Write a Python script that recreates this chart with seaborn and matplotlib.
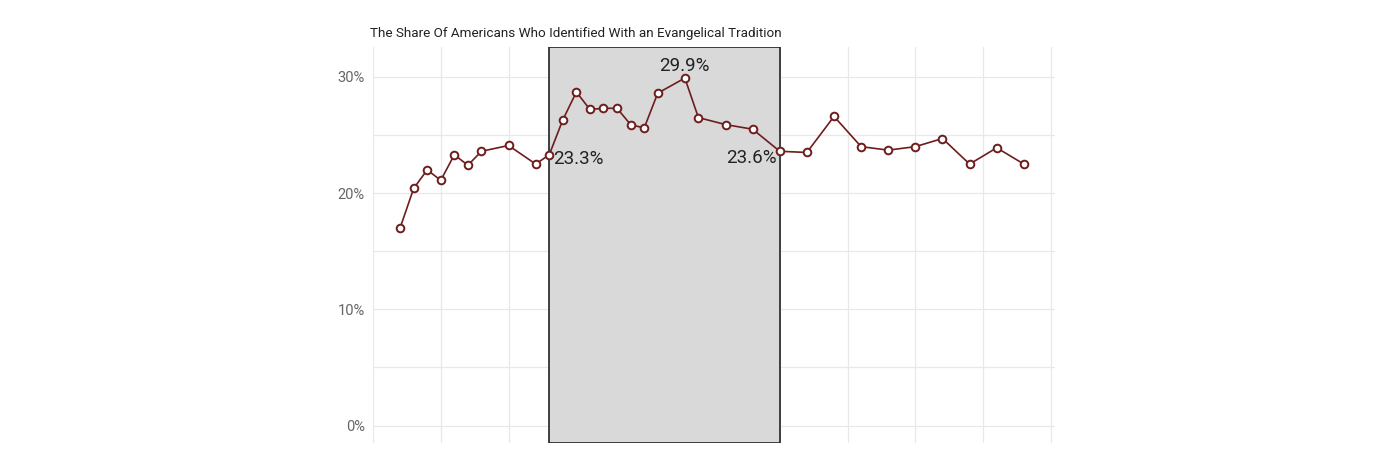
import matplotlib
matplotlib.use("Agg")
import matplotlib.pyplot as plt
import matplotlib.ticker as mticker
import seaborn as sns
import pandas as pd

# GSS survey years and share identifying with an evangelical tradition (%)
years = [1972, 1973, 1974, 1975, 1976, 1977, 1978, 1980, 1982, 1983, 1984,
         1985, 1986, 1987, 1988, 1989, 1990, 1991, 1993, 1994, 1996, 1998,
         2000, 2002, 2004, 2006, 2008, 2010, 2012, 2014, 2016, 2018]
share = [17.0, 20.4, 22.0, 21.1, 23.3, 22.4, 23.6, 24.1, 22.5, 23.3, 26.3,
         28.7, 27.2, 27.3, 27.3, 25.9, 25.6, 28.6, 29.9, 26.5, 25.9, 25.5,
         23.6, 23.5, 26.6, 24.0, 23.7, 24.0, 24.7, 22.5, 23.9, 22.5]

span_start, span_end = 1983, 2000
labels = {1983: "23.3%", 1993: "29.9%", 2000: "23.6%"}

df = pd.DataFrame({"year": years, "share": share})

sns.set_theme(style="white")
plt.rcParams["font.family"] = ["Roboto", "DejaVu Sans"]

fig = plt.figure(figsize=(14, 4.67), dpi=100)
ax = fig.add_axes([0.2664, 0.0514, 0.4872, 0.8486])

# highlighted period
ax.axvspan(span_start, span_end, facecolor="#d9d9d9", edgecolor="#222222",
           linewidth=1.2, zorder=1)

line_col = "#6e1c1c"
sns.lineplot(data=df, x="year", y="share", ax=ax, color=line_col,
             linewidth=1.2, marker="o", markersize=5.5,
             markerfacecolor="white", markeredgecolor=line_col,
             markeredgewidth=1.4, zorder=3)

lookup = dict(zip(years, share))
ax.text(span_start + 0.25, lookup[1983] - 0.35, labels[1983], ha="left",
        va="center", fontsize=13.5, color="#222222", zorder=4)
ax.text(1993, lookup[1993] + 0.3, labels[1993], ha="center", va="bottom",
        fontsize=13.5, color="#222222", zorder=4)
ax.text(span_end - 0.25, lookup[2000] - 0.6, labels[2000], ha="right",
        va="center", fontsize=13.5, color="#222222", zorder=4)

ax.set_xlim(1970, 2020.3)
ax.set_ylim(-1.5, 32.6)
ax.xaxis.set_major_locator(mticker.MultipleLocator(10))
ax.xaxis.set_minor_locator(mticker.MultipleLocator(5))
ax.yaxis.set_major_locator(mticker.MultipleLocator(10))
ax.yaxis.set_minor_locator(mticker.MultipleLocator(5))
ax.yaxis.set_major_formatter(mticker.FuncFormatter(lambda v, p: f"{v:.0f}%"))
ax.grid(which="both", color="#e8e8e8", linewidth=0.9, zorder=0)
ax.set_axisbelow(True)
ax.tick_params(axis="x", which="both", labelbottom=False, length=0)
ax.tick_params(axis="y", which="major", labelsize=10.5, labelcolor="#666666",
               length=4, color="#dddddd", pad=2)
ax.tick_params(axis="y", which="minor", length=0)
ax.set_xlabel("")
ax.set_ylabel("")
for s in ax.spines.values():
    s.set_visible(False)

fig.text(370 / 1400, 1 - 33 / 467, "The Share Of Americans Who Identified With an Evangelical Tradition",
         ha="left", va="center", fontsize=9.7, color="#222222")

fig.savefig("out.png", dpi=100)
